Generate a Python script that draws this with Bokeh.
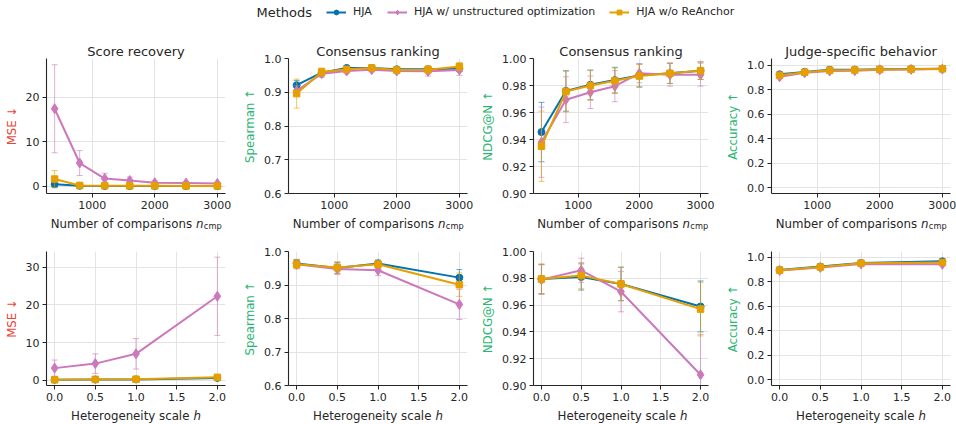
from bokeh.plotting import figure
from bokeh.models import (ColumnDataSource, Range1d, FixedTicker, NumeralTickFormatter,
                          Label, Legend, LegendItem)
from bokeh.layouts import column, row
from bokeh.embed import file_html
from bokeh.resources import INLINE

# ---------------- data ----------------
methods = ["HJA", "HJA w/ unstructured optimization", "HJA w/o ReAnchor"]
colors = ["#0173B2", "#CC78BC", "#E69F00"]
markers = ["circle", "diamond", "square"]
marker_sizes = [7, 10, 6.5]

n_cmp = [400, 800, 1200, 1600, 2000, 2500, 3000]
h_scale = [0.0, 0.5, 1.0, 2.0]

# row 1 (vs number of comparisons)
mse_n = [[0.45, 0.08, 0.05, 0.04, 0.04, 0.03, 0.03],
         [17.4, 5.2, 1.7, 1.25, 0.75, 0.7, 0.6],
         [1.6, 0.15, 0.1, 0.08, 0.07, 0.06, 0.05]]
mse_n_err = [[0.8, 0.1, 0.05, 0.04, 0.04, 0.03, 0.03],
             [9.9, 2.8, 1.2, 0.8, 0.4, 0.35, 0.3],
             [1.9, 0.2, 0.1, 0.08, 0.06, 0.05, 0.04]]

sp_n = [[0.921, 0.958, 0.972, 0.972, 0.968, 0.968, 0.970],
        [0.904, 0.955, 0.963, 0.967, 0.963, 0.962, 0.966],
        [0.896, 0.960, 0.968, 0.972, 0.966, 0.967, 0.976]]
sp_n_err = [[0.014, 0.010, 0.006, 0.006, 0.007, 0.008, 0.009],
            [0.015, 0.011, 0.008, 0.007, 0.008, 0.014, 0.016],
            [0.043, 0.012, 0.008, 0.007, 0.008, 0.012, 0.012]]

nd_n = [[0.9455, 0.976, 0.9805, 0.984, 0.9875, 0.989, 0.991],
        [0.938, 0.9695, 0.975, 0.9795, 0.989, 0.988, 0.988],
        [0.935, 0.9755, 0.980, 0.9835, 0.987, 0.989, 0.991]]
nd_n_err = [[0.022, 0.015, 0.011, 0.0095, 0.0085, 0.0075, 0.0065],
            [0.026, 0.017, 0.012, 0.0115, 0.007, 0.0085, 0.0085],
            [0.026, 0.015, 0.011, 0.0095, 0.0085, 0.0075, 0.0065]]

acc_n = [[0.925, 0.945, 0.962, 0.963, 0.966, 0.968, 0.970],
         [0.905, 0.937, 0.952, 0.955, 0.962, 0.965, 0.968],
         [0.918, 0.942, 0.958, 0.960, 0.965, 0.967, 0.970]]
acc_n_err = [[0.010, 0.008, 0.006, 0.005, 0.005, 0.004, 0.004],
             [0.012, 0.009, 0.007, 0.006, 0.005, 0.005, 0.004],
             [0.010, 0.008, 0.006, 0.005, 0.005, 0.004, 0.004]]

# row 2 (vs heterogeneity scale)
mse_h = [[0.1, 0.15, 0.2, 0.6],
         [3.2, 4.4, 7.0, 22.3],
         [0.1, 0.2, 0.25, 0.75]]
mse_h_err = [[0.05, 0.08, 0.1, 0.2],
             [2.15, 2.6, 4.05, 10.4],
             [0.05, 0.1, 0.12, 0.25]]

sp_h = [[0.9645, 0.951, 0.9645, 0.922],
        [0.962, 0.948, 0.944, 0.842],
        [0.962, 0.952, 0.962, 0.901]]
sp_h_err = [[0.012, 0.016, 0.010, 0.024],
            [0.013, 0.017, 0.016, 0.045],
            [0.014, 0.018, 0.011, 0.035]]

nd_h = [[0.9795, 0.981, 0.9758, 0.959],
        [0.979, 0.986, 0.970, 0.908],
        [0.9795, 0.982, 0.9758, 0.957]]
nd_h_err = [[0.011, 0.0098, 0.0125, 0.019],
            [0.011, 0.009, 0.015, 0.030],
            [0.011, 0.0098, 0.0125, 0.020]]

acc_h = [[0.897, 0.924, 0.954, 0.967],
         [0.893, 0.917, 0.946, 0.943],
         [0.895, 0.920, 0.951, 0.958]]
acc_h_err = [[0.008, 0.007, 0.006, 0.006],
             [0.008, 0.007, 0.006, 0.006],
             [0.008, 0.007, 0.006, 0.006]]

titles = ["Score recovery", "Consensus ranking", "Consensus ranking", "Judge-specific behavior"]
ylabels = ["MSE \u2193", "Spearman \u2191", "NDCG@N \u2191", "Accuracy \u2191"]
ylabel_colors = ["#E8473A", "#2BB673", "#2BB673", "#2BB673"]
n_ticks = [1000, 2000, 3000]
h_ticks = [0.0, 0.5, 1.0, 1.5, 2.0]

# ---------------- style ----------------
FONT = "DejaVu Sans"
TXT = "#262626"
XL = 11.8
W = {'N': 0.748, 'u': 0.634, 'm': 0.974, 'b': 0.635, 'e': 0.615, 'r': 0.411, ' ': 0.318,
     'o': 0.612, 'f': 0.352, 'c': 0.550, 'p': 0.635, 'a': 0.613, 'i': 0.278, 's': 0.521,
     'n': 0.634, 'H': 0.752, 't': 0.392, 'g': 0.635, 'y': 0.592, 'l': 0.278, 'h': 0.634}


def tw(s, size):
    return sum(W.get(c, 0.6) for c in s) * size


COLS = [(46, 14), (49, 11), (52, 9), (54, 6)]
COLW = 239


def panel(ci, xs, means, errs, xr, yr, yticks, yfmt, xticks, xfmt, title, top, fh, bottom):
    L, R = COLS[ci]
    p = figure(width=COLW, height=top + fh + bottom,
               x_range=Range1d(*xr), y_range=Range1d(*yr),
               toolbar_location=None, output_backend="svg",
               min_border_left=L, min_border_right=R, min_border_top=top, min_border_bottom=bottom)
    p.outline_line_color = None
    p.background_fill_color = "white"
    p.border_fill_color = "white"
    if title:
        p.title.text = title
        p.title.align = "center"
        p.title.text_font = FONT
        p.title.text_font_size = "13px"
        p.title.text_font_style = "normal"
        p.title.text_color = TXT
        p.title.standoff = 0
    for ax in (p.xaxis[0], p.yaxis[0]):
        ax.axis_line_color = TXT
        ax.axis_line_width = 1.1
        ax.major_tick_line_color = TXT
        ax.major_tick_out = 4
        ax.major_tick_in = 0
        ax.minor_tick_line_color = None
        ax.major_label_text_font = FONT
        ax.major_label_text_font_size = "11px"
        ax.major_label_text_color = TXT
        ax.major_label_standoff = 3
    p.xaxis.ticker = FixedTicker(ticks=xticks)
    p.xaxis.formatter = NumeralTickFormatter(format=xfmt)
    p.yaxis.ticker = FixedTicker(ticks=yticks)
    p.yaxis.formatter = NumeralTickFormatter(format=yfmt)
    p.yaxis.axis_label = ylabels[ci]
    p.yaxis.axis_label_text_color = ylabel_colors[ci]
    p.yaxis.axis_label_text_font = FONT
    p.yaxis.axis_label_text_font_size = f"{XL}px"
    p.yaxis.axis_label_text_font_style = "normal"
    p.yaxis.axis_label_standoff = 4
    p.grid.grid_line_color = "#E3E3E3"
    p.grid.grid_line_width = 1

    for k in range(3):
        lo = [m - e for m, e in zip(means[k], errs[k])]
        hi = [m + e for m, e in zip(means[k], errs[k])]
        src = ColumnDataSource(dict(x=xs, y=means[k], lo=lo, hi=hi))
        p.segment(x0="x", y0="lo", x1="x", y1="hi", source=src, line_color=colors[k],
                  line_alpha=0.6, line_width=1)
        p.scatter(x="x", y="lo", source=src, marker="dash", size=6, line_color=colors[k],
                  line_alpha=0.6, line_width=1)
        p.scatter(x="x", y="hi", source=src, marker="dash", size=6, line_color=colors[k],
                  line_alpha=0.6, line_width=1)
        p.line(x="x", y="y", source=src, line_color=colors[k], line_width=2)
        p.scatter(x="x", y="y", source=src, marker=markers[k], size=marker_sizes[k],
                  fill_color=colors[k], line_color=colors[k])
    return p


def xlabel_fig(ci, main, it, sub, height, yb):
    # same side borders as the panel above, so its frame coincides with the panel's frame
    L, R = COLS[ci]
    fw = COLW - L - R
    f = figure(width=COLW, height=height, x_range=Range1d(0, 1), y_range=Range1d(0, 1),
               toolbar_location=None, output_backend="svg",
               min_border_left=L, min_border_right=R, min_border_top=0, min_border_bottom=0,
               x_axis_location=None, y_axis_location=None)
    f.outline_line_color = None
    f.grid.visible = False
    ssz = XL * 0.7
    w_main = tw(main, XL)
    w_it = tw(it, XL)
    w_sub = tw(sub, ssz) if sub else 0
    x0 = (fw - (w_main + w_it + w_sub)) / 2
    f.add_layout(Label(x=x0, y=yb, x_units="screen", y_units="screen", text=main,
                       text_align="left", text_baseline="alphabetic",
                       text_font=FONT, text_font_size=f"{XL}px", text_color=TXT))
    f.add_layout(Label(x=x0 + w_main, y=yb, x_units="screen", y_units="screen", text=it,
                       text_align="left", text_baseline="alphabetic", text_font=FONT,
                       text_font_style="italic", text_font_size=f"{XL}px", text_color=TXT))
    if sub:
        f.add_layout(Label(x=x0 + w_main + w_it + 0.5, y=yb - 2.5, x_units="screen",
                           y_units="screen", text=sub, text_align="left",
                           text_baseline="alphabetic", text_font=FONT,
                           text_font_size=f"{ssz:.2f}px", text_color=TXT))
    return f


xr_n = (270, 3130)
xr_h = (-0.1, 2.1)
yticks_sp = [0.6, 0.7, 0.8, 0.9, 1.0]
yticks_nd = [0.90, 0.92, 0.94, 0.96, 0.98, 1.00]
yticks_acc = [0, 0.2, 0.4, 0.6, 0.8, 1.0]

top_specs = [
    (mse_n, mse_n_err, (-1.65, 28.7), [0, 10, 20], "0"),
    (sp_n, sp_n_err, (0.6, 1.0), yticks_sp, "0.0"),
    (nd_n, nd_n_err, (0.9, 1.0), yticks_nd, "0.00"),
    (acc_n, acc_n_err, (-0.046, 1.054), yticks_acc, "0.0"),
]
bot_specs = [
    (mse_h, mse_h_err, (-1.42, 34.2), [0, 10, 20, 30], "0"),
    (sp_h, sp_h_err, (0.6, 1.0), yticks_sp, "0.0"),
    (nd_h, nd_h_err, (0.9, 1.0), yticks_nd, "0.00"),
    (acc_h, acc_h_err, (-0.045, 1.047), yticks_acc, "0.0"),
]

top_cols = []
for ci, (m, e, yr, yt, yf) in enumerate(top_specs):
    p = panel(ci, n_cmp, m, e, xr_n, yr, yt, yf, n_ticks, "0", titles[ci], 28, 135, 22)
    top_cols.append(column(p, xlabel_fig(ci, "Number of comparisons ", "n", "cmp", 16, 8)))
bot_cols = []
for ci, (m, e, yr, yt, yf) in enumerate(bot_specs):
    p = panel(ci, h_scale, m, e, xr_h, yr, yt, yf, h_ticks, "0.0", None, 20, 134, 22)
    bot_cols.append(column(p, xlabel_fig(ci, "Heterogeneity scale ", "h", None, 17, 9)))

# ---------------- legend strip ----------------
lg = figure(width=956, height=30, x_range=Range1d(0, 1), y_range=Range1d(0, 1),
            toolbar_location=None, output_backend="svg", min_border=0,
            x_axis_location=None, y_axis_location=None)
lg.outline_line_color = None
lg.grid.visible = False
items = []
nan = float("nan")
for k in range(3):
    lr = lg.line(x=[nan], y=[nan], line_color=colors[k], line_width=2)
    sr = lg.scatter(x=[nan], y=[nan], marker=markers[k], size=marker_sizes[k] * 0.9,
                    fill_color=colors[k], line_color=colors[k])
    items.append(LegendItem(label=methods[k], renderers=[lr, sr]))
legend = Legend(items=items, orientation="horizontal", location=(326, 12),
                glyph_width=20, glyph_height=12, label_height=12, label_standoff=7, spacing=14,
                padding=0, margin=0, border_line_color=None, background_fill_alpha=0,
                label_text_font=FONT, label_text_font_size="11px", label_text_color=TXT)
lg.add_layout(legend)
lg.add_layout(Label(x=256, y=18, x_units="screen", y_units="screen", text="Methods",
                    text_align="left", text_baseline="middle", text_font=FONT,
                    text_font_size="13px", text_color=TXT))

layout = column(lg, row(*top_cols), row(*bot_cols))
open("out.html", "w").write(file_html(layout, INLINE))
